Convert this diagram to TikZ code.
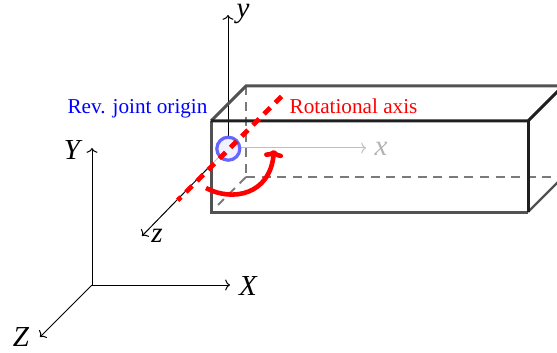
\documentclass[tikz,border=0pt]{standalone}
\usepackage{fontspec}
\setmainfont{Liberation Serif}
\usetikzlibrary{arrows.meta,calc}
\tikzset{
    axisline/.style={-{To[length=2.4pt,width=5.5pt]}, line width=0.5pt},
    axislabel/.style={font=\fontsize{14.5}{16}\selectfont\itshape, inner sep=0pt},
    frontedge/.style={line width=1.5pt, black!68},
    topedge/.style={line width=1.5pt, black!88},
    hiddenedge/.style={line width=0.9pt, black!52, dash pattern=on 4.5pt off 3.3pt},
    rotaxis/.style={line width=2.3pt, red, dash pattern=on 4.4pt off 3.5pt},
    rotlabel/.style={font=\fontsize{10.6}{12}\selectfont, inner sep=0pt, anchor=base}
}
\begin{document}
\begin{tikzpicture}[x=0.5pt, y=-0.5pt]
\useasboundingbox (0,0) rectangle (557,353);
\clip (0,0) rectangle (557,353);

% === world frame ===
\coordinate (worldO) at (92,285);
\node[axislabel] (worldX) at (248,286) {X};
\node[axislabel] (worldY) at (72,150) {Y};
\node[axislabel] (worldZ) at (21,337) {Z};
\coordinate (worldXtip) at (230,285);
\coordinate (worldYtip) at (92,148);
\coordinate (worldZtip) at (40,337);

% === box corners ===
\coordinate (fTL) at (211,121);
\coordinate (fTR) at (528,121);
\coordinate (fBR) at (528,212);
\coordinate (fBL) at (211,212);
\coordinate (bTL) at (246,86);
\coordinate (bBL) at (246,177);
\coordinate (bTR) at (564,86);
\coordinate (bBR) at (564,177);
\coordinate (rTR) at (563,86);
\coordinate (rBR) at (563,177);
\coordinate (hidEnd) at (218,205);

% === local frame ===
\coordinate (localO) at (228,148);
\coordinate (localXtip) at (366,148);
\coordinate (localYtip) at (228,15);
\coordinate (localZtip) at (142,236);
\coordinate (localZin) at (211,165);
\node[axislabel, text=black!30] (localX) at (381,149) {x};
\node[axislabel] (localY) at (243,14) {y};
\node[axislabel] (localZ) at (157,236) {z};

% world axes
\draw[axisline] (worldO) -- (worldXtip);
\draw[axisline] (worldO) -- (worldYtip);
\draw[axisline] (worldO) -- (worldZtip);

% hidden edges
\draw[hiddenedge] (bTL) -- (bBL);
\draw[hiddenedge] (bBL) -- (bBR);
\draw[hiddenedge] (bBL) -- (hidEnd);

% local axes
\draw[axisline, black!25] (localO) -- (localXtip);
\draw[line width=0.5pt, black!25] (localO) -- (localZin);
\draw[axisline] (localZin) -- (localZtip);
\draw[axisline] (localO) -- (localYtip);

% box edges
\draw[frontedge] (fTL) -- (bTL) -- (bTR);
\draw[frontedge] (fTL) -- (fBL) -- (fBR);
\draw[frontedge, line width=1.1pt] (fBR) -- (rBR);
\draw[topedge] (fTL) -- (fTR) -- (rTR);
\draw[topedge] (fTR) -- (fBR);

% joint origin
\node[circle, draw=blue!60, fill=blue!6, line width=1.6pt, minimum size=11.5pt, inner sep=0pt] (joint) at (228.3,148.7) {};
\node[rotlabel, text=blue] (jointlabel) at (137.5,114) {Rev. joint origin};

% rotational axis
\coordinate (rotA) at (281.5,96.5);
\coordinate (rotB) at (177.7,200.3);
\draw[rotaxis] (rotA) -- (rotB);
\node[rotlabel, text=red] (rotlabel) at (353.5,114) {Rotational axis};

% rotation arrow
\coordinate (arcA) at (206,188);
\coordinate (arcB) at (274,150);
\draw[-{To[length=3.8pt,width=9.5pt]}, line width=2.3pt, red] (arcA) .. controls (232,202) and (270,195) .. (arcB);

\end{tikzpicture}
\end{document}
